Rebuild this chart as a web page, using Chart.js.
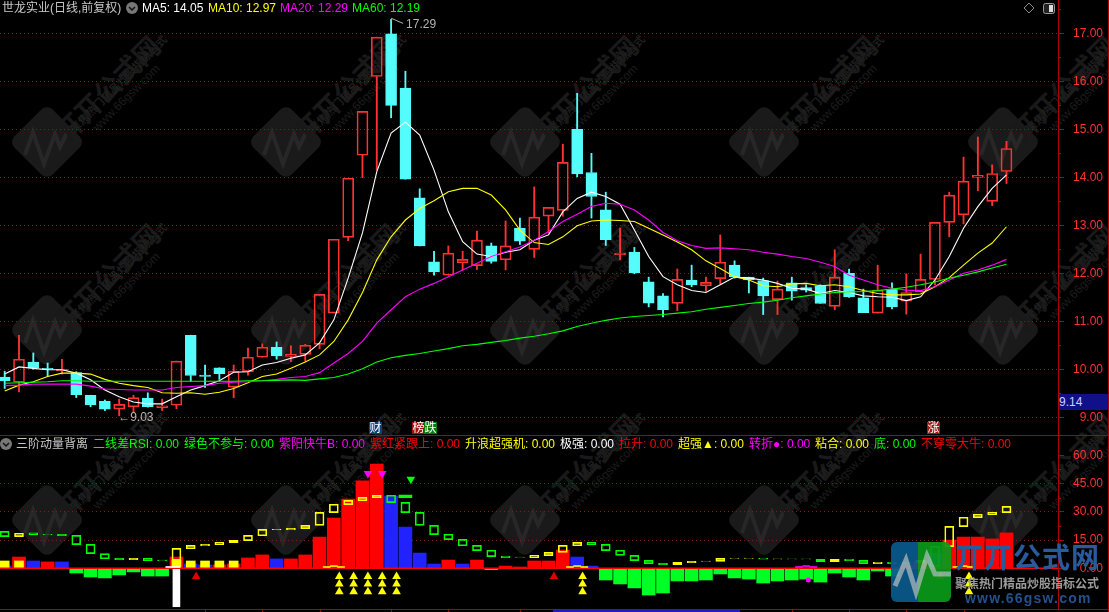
<!DOCTYPE html>
<html>
<head>
<meta charset="utf-8">
<title>世龙实业</title>
<script src="https://cdn.jsdelivr.net/npm/chart.js@4"></script>
<style>
  html, body { margin: 0; padding: 0; background: #000; overflow: hidden; }
  #stage { position: relative; width: 1109px; height: 612px; overflow: hidden; background: #000;
           font: 12px "Liberation Sans", "Noto Sans CJK SC", sans-serif; }
  canvas { position: absolute; left: 0; }
  #priceChart { top: 0; }
  #indiChart { top: 436px; }
  .txt { position: absolute; white-space: nowrap; line-height: 14px; }
  .wm { position: absolute; white-space: nowrap; transform-origin: 0 50%; transform: rotate(-45deg); line-height: 1; }
  .tag { position: absolute; top: 422px; width: 13px; height: 12px; line-height: 12px; text-align: center; color: #fff; }
  .line { position: absolute; background: #b00000; }
</style>
</head>
<body>
<div id="stage">
  <div id="watermark"></div>
  <canvas id="priceChart" width="1109" height="435"></canvas>
  <canvas id="indiChart" width="1109" height="176"></canvas>
  <div id="overlay"></div>
</div>
<script>
// Candles (71 trading days)
const opens = [9.84,9.73,10.15,10.02,9.97,9.93,9.46,9.33,9.17,9.22,9.40,9.20,9.25,10.71,9.88,10.03,9.63,9.95,10.25,10.46,10.27,10.31,10.52,11.17,12.75,14.46,16.10,16.99,15.86,13.57,12.24,11.96,12.22,12.16,12.57,12.28,12.94,12.50,13.19,13.31,15.00,14.10,13.32,12.39,12.44,11.82,11.53,11.375,11.86,11.74,11.89,12.17,11.92,11.85,11.45,11.80,11.70,11.74,11.31,12.00,11.49,11.17,11.67,11.42,11.61,11.87,13.06,13.22,14.00,13.50,14.12];
const closes = [9.76,10.21,10.03,10.00,10.00,9.47,9.26,9.17,9.27,9.41,9.22,9.24,10.17,9.87,9.85,9.91,9.96,10.25,10.46,10.28,10.31,10.50,11.56,12.71,13.98,15.375,16.92,15.50,13.96,12.57,12.03,12.42,12.29,12.69,12.25,12.57,12.67,13.17,13.375,14.31,14.07,13.60,12.70,12.42,12.01,11.38,11.24,11.875,11.76,11.81,12.23,11.93,11.86,11.53,11.67,11.63,11.65,11.37,11.92,11.51,11.18,11.65,11.30,11.60,11.875,13.06,13.63,13.92,14.04,14.08,14.60];
const highs = [9.96,10.71,10.34,10.13,10.21,9.95,9.46,9.36,9.38,9.46,9.51,9.38,10.17,10.71,10.09,10.03,10.09,10.44,10.53,10.57,10.49,10.52,11.56,12.71,13.98,15.375,16.92,17.29,16.21,13.76,12.46,12.57,12.46,12.88,12.63,13.09,13.15,13.80,13.375,14.69,15.75,14.50,13.69,12.94,12.54,11.92,11.58,12.09,12.17,11.92,12.80,12.26,11.92,11.90,11.84,11.92,11.76,11.76,12.49,12.09,11.67,12.17,11.80,11.99,12.40,13.06,13.69,14.42,14.84,14.26,14.75];
const lows = [9.60,9.53,10.00,9.85,9.90,9.41,9.22,9.14,9.03,9.10,9.21,9.14,9.18,9.75,9.62,9.79,9.41,9.88,10.25,10.21,10.16,10.17,10.43,11.17,12.68,13.99,14.15,15.24,13.96,12.57,11.96,11.96,12.07,12.08,12.21,12.07,12.60,12.33,12.84,13.19,14.01,13.15,12.58,12.28,11.99,11.30,11.09,11.22,11.72,11.62,11.78,11.90,11.59,11.14,11.14,11.44,11.61,11.37,11.24,11.50,11.18,11.17,11.26,11.15,11.61,11.76,12.76,13.03,13.72,13.41,13.87];

// Moving averages
const ma5 = [9.90,10.05,10.02,9.99,9.99,9.92,9.78,9.57,9.43,9.32,9.28,9.28,9.43,9.57,9.66,9.76,9.94,9.95,10.09,10.14,10.23,10.30,10.55,11.03,11.90,12.84,14.12,14.92,15.15,14.88,14.15,13.28,12.66,12.40,12.35,12.44,12.49,12.69,12.80,13.28,13.56,13.69,13.60,13.44,12.90,12.35,11.93,11.76,11.64,11.60,11.76,11.92,11.90,11.86,11.79,11.69,11.67,11.58,11.64,11.60,11.53,11.51,11.50,11.43,11.51,11.86,12.35,12.94,13.39,13.77,14.05];
const ma10 = [9.55,9.67,9.74,9.85,9.92,9.92,9.90,9.79,9.71,9.66,9.62,9.51,9.50,9.51,9.48,9.52,9.60,9.72,9.85,9.90,10.02,10.15,10.30,10.58,11.03,11.60,12.28,12.76,13.11,13.35,13.51,13.70,13.77,13.77,13.63,13.32,12.90,12.64,12.60,12.76,12.99,13.09,13.11,13.10,13.08,12.94,12.80,12.65,12.49,12.26,12.10,11.93,11.86,11.74,11.72,11.78,11.79,11.74,11.76,11.72,11.64,11.58,11.55,11.55,11.57,11.72,11.91,12.17,12.42,12.63,12.97];
const ma20 = [9.66,9.67,9.69,9.69,9.69,9.69,9.65,9.59,9.58,9.57,9.57,9.57,9.62,9.64,9.66,9.71,9.73,9.74,9.76,9.79,9.83,9.85,9.93,10.13,10.33,10.58,10.96,11.24,11.51,11.67,11.79,11.93,12.07,12.21,12.35,12.45,12.55,12.69,12.87,13.08,13.23,13.39,13.46,13.44,13.32,13.11,12.85,12.68,12.58,12.52,12.53,12.51,12.49,12.44,12.40,12.35,12.31,12.23,12.14,11.96,11.86,11.76,11.69,11.65,11.64,11.72,11.86,12.00,12.07,12.17,12.29];
const ma60 = [9.71,9.72,9.73,9.74,9.76,9.76,9.75,9.75,9.75,9.75,9.75,9.75,9.75,9.75,9.75,9.75,9.75,9.76,9.76,9.77,9.78,9.77,9.80,9.83,9.90,10.01,10.15,10.24,10.29,10.33,10.38,10.43,10.49,10.52,10.56,10.60,10.65,10.69,10.74,10.80,10.89,10.96,11.02,11.07,11.10,11.12,11.14,11.17,11.20,11.25,11.29,11.33,11.37,11.40,11.44,11.49,11.53,11.57,11.60,11.61,11.62,11.64,11.67,11.71,11.76,11.82,11.90,11.96,12.03,12.11,12.19];

// Indicator histogram, r = red, b = blue, g = green
const histValues = [1.4,6.0,3.9,3.4,3.4,-2.5,-4.6,-5.1,-3.5,-1.9,-4.1,-4.1,6.0,2.3,1.8,1.8,2.3,5.5,7.1,5.0,5.0,7.1,16.6,26.7,36.8,46.4,55.4,38.4,21.9,8.1,2.3,4.4,2.3,4.4,-0.7,1.2,0.7,3.9,3.9,9.7,6.0,1.2,-6.2,-8.3,-10.4,-14.2,-13.1,-6.7,-6.7,-6.2,-3.0,-5.1,-5.7,-7.8,-6.7,-6.2,-5.7,-7.3,-2.5,-4.6,-6.2,-1.4,-4.1,1.8,3.9,8.0,15.0,16.6,16.6,15.6,18.8];
const histKinds = ['b','r','b','r','b','g','g','g','g','g','g','g','r','b','b','r','r','r','r','b','r','r','r','r','r','r','r','b','b','b','b','r','b','r','g','r','r','r','r','r','b','b','g','g','g','g','g','g','g','g','g','g','g','g','g','g','g','g','g','g','g','g','g','r','r','b','r','r','r','r','r'];

// Hollow boxes on the indicator, g = green, y = yellow
const boxHigh = [19.6,18.6,18.8,18.1,18.1,17.5,12.7,7.8,5.3,5.3,5.3,4.4,10.6,12.2,12.7,13.8,14.9,17.5,20.7,20.7,21.2,22.8,29.7,34.0,36.1,37.7,38.8,38.8,35.0,29.7,22.8,18.1,15.4,12.2,9.6,6.5,6.0,6.9,8.5,12.2,13.8,13.8,12.7,9.6,6.9,4.2,2.7,3.2,3.7,3.9,5.3,5.5,5.5,5.5,5.0,5.0,5.0,4.8,4.8,4.8,4.2,3.2,3.2,3.2,4.2,11.7,22.3,27.1,28.7,29.7,32.9];
const boxLow = [16.8,16.8,17.9,17.9,17.3,12.6,7.8,5.1,4.6,4.6,4.1,4.1,4.2,10.4,12.0,12.6,13.6,14.7,17.3,20.5,20.5,21.1,22.8,29.6,33.8,35.9,37.5,34.9,29.6,22.8,17.9,15.2,12.0,9.4,6.2,5.7,5.8,5.7,6.7,8.5,12.0,12.6,9.4,6.9,4.1,2.5,1.9,1.9,3.0,3.7,3.7,5.3,5.3,4.8,4.8,4.8,4.8,3.5,3.5,4.1,2.5,2.5,2.5,2.5,3.0,0.9,11.5,22.1,26.9,28.5,29.6];
const boxKinds = ['g','y','g','g','g','g','g','g','g','y','g','g','y','y','y','y','y','y','y','y','y','y','y','y','y','y','y','g','g','g','g','g','g','g','g','g','g','y','y','y','y','g','g','g','g','g','g','y','y','y','y','y','y','g','y','g','g','g','y','g','g','y','g','g','y','g','y','y','y','y','y'];

// Other indicator marks
const yellowBarIdx = [0,1,12,13,14,15,16];
const yellowBarVal = [3.9,3.9,4.4,3.9,3.9,3.9,3.9];
const whiteBarIdx = [12];
const whiteBarVal = [-20.4];
const capIdx = [28];
const capLow = [37.5];
const capHigh = [38.9];
const dashYellowX = [22.5,23,23.5,39.5,40,40.5,66.5,67,67.5];
const dashYellowY = [0.7,1.2,0.7,0.7,1.2,0.7,0.7,1.2,0.7];
const dashMagentaX = [55.5,56,56.5];
const dashMagentaY = [0.7,1.2,0.7];
const dashWhiteX = [11.5,12];
const dashWhiteY = [0.7,0.7];
const stackX = [23.38,24.38,25.38,26.38,27.38,40.38,67.38];
const stackY = [-4.4,-8.3,-12.4];
const redUpX = [13.38,38.38,65.38];
const redUpY = [-4.4,-4.4,-4.4];
const magentaDownX = [25.38,26.38];
const magentaDownY = [50.4,50.4];
const greenDownX = [28.38];
const greenDownY = [47.3];
const magentaDotX = [56.15];
const magentaDotY = [-6.2];
const dateTicks = [14,18,22,27,31,36,42,46,50,55,59,63,67];

const priceTicks = [9,10,11,12,13,14,15,16,17];
const indiTicks = [0,15,30,45,60];

const RED = '#ff3232';
const CYAN = '#54fcfc';
const GRID = '#7e1c1c';
const FRAME = '#b00000';
const indexes = opens.map((v, i) => i);
const X_MIN = -0.328, X_MAX = 73.6;

function pairs(xs, ys) { return xs.map((x, i) => ({ x: x, y: ys[i] })); }
function spans(xs, lo, hi) { return xs.map((x, i) => ({ x: x, y: [lo[i], hi[i]] })); }

function barSet(data, color, width, order, fill) {
    return {
        type: 'bar', data: data, grouped: false, barThickness: width, order: order,
        backgroundColor: fill === undefined ? color : fill,
        borderColor: color, borderWidth: fill === undefined ? 0 : 1, borderSkipped: false
    };
}
function lineSet(values, color) {
    return {
        type: 'line', data: pairs(indexes, values), borderColor: color, borderWidth: 1.1,
        pointRadius: 0, tension: 0, order: 0
    };
}
function markSet(xs, ys, style, color, radius, rotation) {
    return {
        type: 'line', data: pairs(xs, ys), showLine: false, pointStyle: style, pointRadius: radius,
        pointRotation: rotation || 0, pointBackgroundColor: color, pointBorderWidth: 0, order: 0
    };
}

// half way ticks on the right axis and the small date ticks, the library only does one length
const minorTicks = {
    id: 'minorTicks',
    afterDraw(chart, args, opts) {
        const c = chart.ctx, y = chart.scales.y, x = chart.scales.x;
        c.save();
        c.strokeStyle = FRAME;
        c.beginPath();
        opts.values.forEach(v => {
            const p = Math.round(y.getPixelForValue(v)) + 0.5;
            c.moveTo(y.left, p);
            c.lineTo(y.left + 3, p);
        });
        (opts.dates || []).forEach(d => {
            const p = Math.round(x.getPixelForValue(d)) + 0.5;
            c.moveTo(p, chart.chartArea.bottom);
            c.lineTo(p, chart.chartArea.bottom + 3);
        });
        c.stroke();
        c.restore();
    }
};

// highest and lowest price notes
const priceNotes = {
    id: 'priceNotes',
    afterDraw(chart) {
        const c = chart.ctx, x = chart.scales.x, y = chart.scales.y;
        const hiIdx = highs.indexOf(Math.max(...highs));
        const loIdx = lows.indexOf(Math.min(...lows));
        const hx = x.getPixelForValue(hiIdx), hy = y.getPixelForValue(highs[hiIdx]);
        const lx = x.getPixelForValue(loIdx), ly = y.getPixelForValue(lows[loIdx]);
        c.save();
        c.font = '12px "Liberation Sans"';
        c.fillStyle = '#b4b4b4';
        c.strokeStyle = '#b4b4b4';
        c.textBaseline = 'middle';
        c.beginPath();
        c.moveTo(hx + 0.5, hy + 2);
        c.lineTo(hx + 0.5, hy - 1);
        c.lineTo(hx + 5, hy + 1);
        c.lineTo(hx + 12, hy + 4);
        c.stroke();
        c.fillText(highs[hiIdx].toFixed(2), hx + 15, hy + 5);
        c.fillText('←' + lows[loIdx].toFixed(2), lx - 1, ly + 2);
        c.restore();
    }
};

function yAxis(tickValues, min, max) {
    return {
        position: 'right', min: min, max: max,
        afterFit(scale) { scale.width = 45; scale.paddingTop = 0; scale.paddingBottom = 0; },
        afterBuildTicks(scale) { scale.ticks = tickValues.map(v => ({ value: v })); },
        border: { color: FRAME, width: 1, dash: [1, 3] },
        grid: {
            color: ctx => (ctx.tick && ctx.tick.value > 0 && ctx.tick.value < 60 ? GRID : 'rgba(0,0,0,0)'),
            tickColor: FRAME, tickLength: 6, drawTicks: true
        },
        ticks: {
            color: RED, padding: 0, crossAlign: 'far', autoSkip: false,
            font: { family: '"Liberation Sans"', size: 12 },
            callback: v => Number(v).toFixed(2)
        }
    };
}
const xAxis = { type: 'linear', display: false, min: X_MIN, max: X_MAX, offset: false };

Chart.defaults.animation = false;
Chart.defaults.devicePixelRatio = 1;

new Chart(document.getElementById('priceChart'), {
    type: 'bar',
    data: {
        datasets: [
            barSet(spans(indexes, closes.map((c, i) => Math.max(c, opens[i])), highs), null, 1.2, 3),
            barSet(spans(indexes, lows, closes.map((c, i) => Math.min(c, opens[i]))), null, 1.2, 3),
            barSet(spans(indexes, opens, closes), null, 11, 2),
            lineSet(ma60, '#00ff00'),
            lineSet(ma20, '#ff00ff'),
            lineSet(ma10, '#ffff00'),
            lineSet(ma5, '#ffffff')
        ]
    },
    options: {
        responsive: false,
        layout: { autoPadding: false, padding: { left: 0, right: 6, top: 0, bottom: 0 } },
        plugins: { legend: { display: false }, tooltip: { enabled: false }, minorTicks: { values: [9.5,10.5,11.5,12.5,13.5,14.5,15.5,16.5,17.5] } },
        scales: { x: xAxis, y: yAxis(priceTicks, 8.631, 17.694) }
    },
    plugins: [minorTicks, priceNotes]
});

// candle colours depend on direction, set after the sets are built
const priceChart = Chart.getChart('priceChart');
const upColor = i => (closes[i] >= opens[i] ? RED : CYAN);
priceChart.data.datasets.slice(0, 2).forEach(ds => {
    ds.backgroundColor = ctx => upColor(ctx.dataIndex);
    ds.borderWidth = 0;
});
priceChart.data.datasets[2].backgroundColor = ctx => (closes[ctx.dataIndex] >= opens[ctx.dataIndex] ? 'rgba(0,0,0,0)' : CYAN);
priceChart.data.datasets[2].borderColor = ctx => upColor(ctx.dataIndex);
priceChart.data.datasets[2].borderWidth = 1;
priceChart.update();

const histColor = { r: '#ff0000', b: '#2222ff', g: '#00ff22' };
const boxColor = { g: '#00ff00', y: '#ffff00' };

const stackMarks = stackY.map(v => markSet(stackX, stackX.map(() => v), 'triangle', '#ffff00', 5));
const histSet = barSet(spans(indexes, histValues.map(() => 0), histValues), '#ff0000', 13, 5);
histSet.backgroundColor = ctx => histColor[histKinds[ctx.dataIndex]];
const boxSet = barSet(spans(indexes, boxLow, boxHigh), '#ffff00', 9, 1, 'rgba(0,0,0,0)');
boxSet.borderColor = ctx => boxColor[boxKinds[ctx.dataIndex]];

new Chart(document.getElementById('indiChart'), {
    type: 'bar',
    data: {
        datasets: [
            histSet,
            barSet(spans(yellowBarIdx, yellowBarVal.map(() => 0), yellowBarVal), '#ffff00', 9, 4),
            barSet(spans(whiteBarIdx, whiteBarVal, whiteBarVal.map(() => 0)), '#ffffff', 7, 4),
            barSet(spans(capIdx, capLow, capHigh), '#00ff00', 13, 1),
            barSet(spans(dashYellowX, dashYellowY.map(v => v - 0.25), dashYellowY.map(v => v + 0.25)), '#ffff00', 7, 1),
            barSet(spans(dashMagentaX, dashMagentaY.map(v => v - 0.25), dashMagentaY.map(v => v + 0.25)), '#ff00ff', 7, 1),
            barSet(spans(dashWhiteX, dashWhiteY.map(v => v - 0.25), dashWhiteY.map(v => v + 0.25)), '#ffffff', 7, 1),
            boxSet,
            {
                type: 'line', data: [{ x: X_MIN, y: 0 }, { x: X_MAX, y: 0 }], borderColor: '#ff0000',
                borderWidth: 1.6, pointRadius: 0, order: 2
            },
            ...stackMarks,
            markSet(redUpX, redUpY, 'triangle', '#e00000', 5),
            markSet(magentaDownX, magentaDownY, 'triangle', '#ff00ff', 5, 180),
            markSet(greenDownX, greenDownY, 'triangle', '#00ff00', 5, 180),
            markSet(magentaDotX, magentaDotY, 'circle', '#ff00ff', 2.5)
        ]
    },
    options: {
        responsive: false,
        layout: { autoPadding: false, padding: { left: 0, right: 6, top: 0, bottom: 3 } },
        plugins: { legend: { display: false }, tooltip: { enabled: false }, minorTicks: { values: [7.5,22.5,37.5,52.5], dates: dateTicks } },
        scales: { x: xAxis, y: yAxis(indiTicks, -21.6, 70.26) }
    },
    plugins: [minorTicks]
});

// ---- texts and page furniture around the charts ----
const overlay = document.getElementById('overlay');
function addText(x, y, text, color, extra) {
    const d = document.createElement('div');
    d.className = 'txt';
    d.style.cssText = `left:${x}px;top:${y}px;color:${color};${extra || ''}`;
    d.textContent = text;
    overlay.appendChild(d);
    return d;
}
function addLine(x, y, w, h, color) {
    const d = document.createElement('div');
    d.className = 'line';
    d.style.cssText = `left:${x}px;top:${y}px;width:${w}px;height:${h}px;${color ? 'background:' + color : ''}`;
    overlay.appendChild(d);
}
function roundIcon(x, y) {
    overlay.insertAdjacentHTML('beforeend', `<svg style="position:absolute;left:${x - 7}px;top:${y - 7}px" width="14" height="14"><circle cx="7" cy="7" r="6" fill="#777"/><polyline points="4,6 7,9 10,6" fill="none" stroke="#111" stroke-width="1.5"/></svg>`);
}

const topLegend = [
    [2, '世龙实业(日线,前复权)', '#c8c8c8'],
    [142, 'MA5: 14.05', '#ffffff'],
    [208, 'MA10: 12.97', '#ffff00'],
    [280, 'MA20: 12.29', '#ff00ff'],
    [352, 'MA60: 12.19', '#00ff00']
];
const subLegend = [
    [16, '三阶动量背离', '#c8c8c8'],
    [93, '二线差RSI: 0.00', '#00ff00'],
    [184, '绿色不参与: 0.00', '#00ff00'],
    [279, '紫阳快牛B: 0.00', '#ff00ff'],
    [370, '紫红紧跟上: 0.00', '#ff0000'],
    [465, '升浪超强机: 0.00', '#ffff00'],
    [560, '极强: 0.00', '#ffffff'],
    [619, '拉升: 0.00', '#ff0000'],
    [678, '超强▲: 0.00', '#ffff00'],
    [749, '转折●: 0.00', '#ff00ff'],
    [815, '粘合: 0.00', '#ffff00'],
    [874, '底: 0.00', '#00ff00'],
    [921, '不穿零大牛: 0.00', '#ff0000']
];
topLegend.forEach(t => addText(t[0], 1, t[1], t[2]));
subLegend.forEach(t => addText(t[0], 437, t[1], t[2]));
roundIcon(132, 8);
roundIcon(6, 444);

addLine(0, 435, 1109, 1);
addLine(0, 609, 1109, 1);
addLine(1108, 0, 1, 612);
addLine(553, 610, 187, 2, '#1c1cc0');

overlay.insertAdjacentHTML('beforeend', `
  <svg style="position:absolute;left:1021px;top:0" width="40" height="18">
    <polygon points="8,3 13,8 8,13 3,8" fill="none" stroke="#888"/>
    <rect x="22.5" y="3.5" width="11" height="10" rx="2" fill="#222" stroke="#999"/>
    <rect x="28" y="5" width="4" height="7" fill="#ddd"/>
  </svg>
  <div class="tag" style="left:369px;background:#10407a">财</div>
  <div class="tag" style="left:412px;background:#a01010">榜</div>
  <div class="tag" style="left:424px;background:#0a7a0a">跌</div>
  <div class="tag" style="left:927px;background:#a01818">涨</div>
  <div class="txt" style="left:1059px;top:394px;width:49px;height:16px;line-height:16px;background:#10108a;color:#c8d0ff">9.14</div>
`);

// background watermark tiles
const wmBox = document.getElementById('watermark');
const tileX = [47, 286, 525, 764, 1003];
const tileY = [142, 330, 520];
const pulse = '-22,13 -14,-10 -3,22 8,-8 13,5 20,-9';
let tiles = '';
tileY.forEach(ty => tileX.forEach(tx => {
    tiles += `<svg style="position:absolute;left:${tx - 40}px;top:${ty - 40}px" width="80" height="80" viewBox="-40 -40 80 80">
      <rect x="-27" y="-27" width="54" height="54" rx="8" transform="rotate(45)" fill="#1a1a1a"/>
      <polyline points="${pulse}" fill="none" stroke="#272727" stroke-width="4"/></svg>
      <div class="wm" style="left:${tx + 12}px;top:${ty - 26}px;font:bold 27px 'Noto Sans CJK SC';color:#191919">丌丌公式网</div>
      <div class="wm" style="left:${tx + 24}px;top:${ty - 20}px;font:bold 11px 'Noto Sans CJK SC';color:#1f1f1f">聚焦热门精品炒股指标公式</div>
      <div class="wm" style="left:${tx + 48}px;top:${ty - 20}px;font:12px 'Liberation Sans';color:#1d1d1d">www.66gsw.com</div>`;
}));
wmBox.innerHTML = tiles;

// corner badge of the site
overlay.insertAdjacentHTML('beforeend', `
  <svg style="position:absolute;left:891px;top:542px;opacity:.93" width="60" height="60">
    <defs><clipPath id="bc"><rect width="60" height="60" rx="6"/></clipPath></defs>
    <g clip-path="url(#bc)">
      <rect width="27" height="60" fill="#0a5a8c"/>
      <rect x="27" width="33" height="60" fill="#0a9a1a"/>
      <polyline points="4,44 15,18 25,50 36,14 44,32 60,32" fill="none" stroke="#b8c8c8" stroke-width="5" opacity=".75"/>
    </g>
  </svg>
  <div class="txt" style="left:955px;top:541px;font:bold 28px/30px 'Noto Sans CJK SC';color:#2a5a9a;letter-spacing:1px">丌丌公式网</div>
  <div class="txt" style="left:955px;top:576px;font:bold 12px/14px 'Noto Sans CJK SC';color:#9a9a9a">聚焦热门精品炒股指标公式</div>
  <div class="txt" style="left:965px;top:591px;font:bold 14px/14px 'Liberation Sans';color:#24508c;letter-spacing:1.2px">www.66gsw.com</div>
`);
</script>
</body>
</html>
